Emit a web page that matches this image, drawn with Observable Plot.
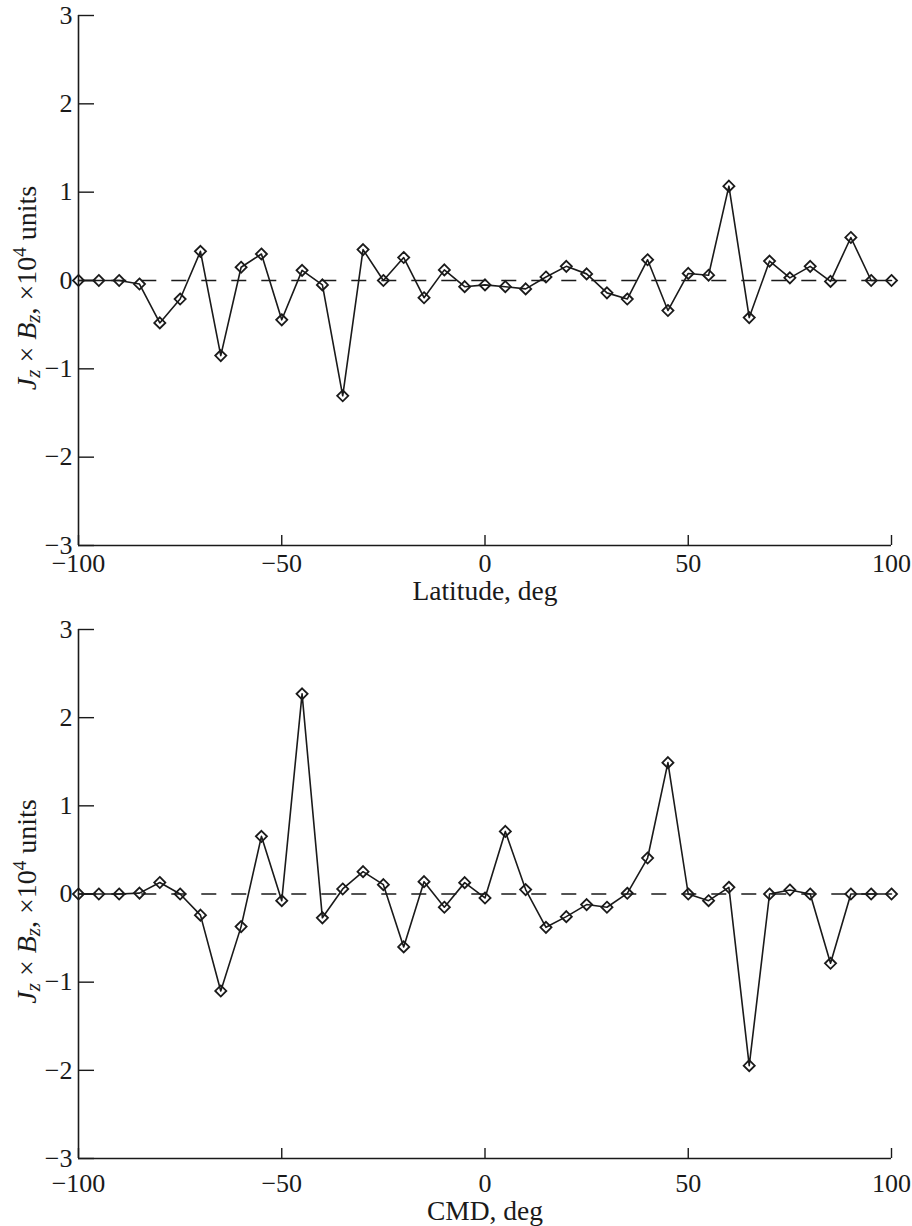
<!DOCTYPE html>
<html>
<head>
<meta charset="utf-8">
<script src="https://cdn.jsdelivr.net/npm/d3@7"></script>
<script src="https://cdn.jsdelivr.net/npm/@observablehq/plot@0.6"></script>
<style>
  html, body { margin: 0; padding: 0; background: #fff; }
  svg { display: block; }
</style>
</head>
<body>
<div id="chart"></div>
<script>
// ---- data ----
const angles = [-100, -95, -90, -85, -80, -75, -70, -65, -60, -55, -50, -45, -40, -35, -30, -25, -20, -15, -10, -5,
  0, 5, 10, 15, 20, 25, 30, 35, 40, 45, 50, 55, 60, 65, 70, 75, 80, 85, 90, 95, 100];

const latitudeValues = [0, 0, 0, -0.04, -0.48, -0.21, 0.33, -0.85, 0.15, 0.30, -0.445, 0.115, -0.05, -1.305, 0.35, 0.0, 0.26, -0.195, 0.12, -0.07,
  -0.05, -0.07, -0.095, 0.04, 0.16, 0.075, -0.14, -0.21, 0.235, -0.34, 0.08, 0.06, 1.068, -0.42, 0.22, 0.03, 0.16, -0.01, 0.487, 0, 0];

const cmdValues = [0, 0, 0, 0.01, 0.13, 0, -0.24, -1.10, -0.37, 0.654, -0.076, 2.27, -0.27, 0.057, 0.253, 0.106, -0.60, 0.14, -0.15, 0.129,
  -0.045, 0.71, 0.05, -0.378, -0.257, -0.12, -0.15, 0.008, 0.408, 1.49, 0, -0.076, 0.076, -1.947, 0, 0.045, 0, -0.786, 0, 0, 0];

const xTicks = [-100, -50, 0, 50, 100];
const yTicks = [-3, -2, -1, 0, 1, 2, 3];
const xDomain = [-100, 100];
const yDomain = [-3, 3];
const topXLabel = "Latitude, deg";
const bottomXLabel = "CMD, deg";

// ---- drawing ----
const ink = "#1a1a1a";
const serif = "Liberation Serif, Times New Roman, serif";
const fmt = d => d < 0 ? "\u2212" + Math.abs(d) : String(d);

function panel(values, xLabel, o) {
  const data = angles.map((a, i) => ({x: a, y: values[i]}));
  const W = 912, mL = 78, mR = 21;
  const frameW = W - mL - mR;
  const frameH = o.height - o.marginTop - o.marginBottom;
  const svg = Plot.plot({
    width: W,
    height: o.height,
    marginLeft: mL,
    marginRight: mR,
    marginTop: o.marginTop,
    marginBottom: o.marginBottom,
    style: {fontFamily: serif, fontSize: "26px", color: ink, background: "#fff", overflow: "visible"},
    x: {domain: xDomain},
    y: {domain: yDomain},
    marks: [
      Plot.ruleY([0], {stroke: ink, strokeWidth: 1.6, strokeDasharray: "15,15", strokeDashoffset: 26.7}),
      Plot.line(data, {x: "x", y: "y", stroke: ink, strokeWidth: 1.6}),
      Plot.dot(data, {x: "x", y: "y", symbol: "diamond2", r: 5, stroke: ink, fill: "none", strokeWidth: 1.8}),
      Plot.ruleX([xDomain[0]], {stroke: ink, strokeWidth: 1.6}),
      Plot.ruleY([yDomain[0]], {stroke: ink, strokeWidth: 1.6}),
      Plot.tickY(yTicks, {y: d => d, stroke: ink, strokeWidth: 1.4, insetRight: frameW - 16}),
      Plot.tickX(xTicks, {x: d => d, stroke: ink, strokeWidth: 1.4, insetTop: frameH - 10}),
      Plot.axisY(yTicks, {tickSize: 0, tickPadding: 6, tickFormat: fmt, label: null, fill: ink, fontFamily: serif, fontSize: 26}),
      Plot.axisX(xTicks, {tickSize: 0, tickPadding: o.tickPad, tickFormat: fmt, label: null, fill: ink, fontFamily: serif, fontSize: 26}),
      Plot.text([xLabel], {frameAnchor: "bottom", dy: o.labelDy, fontSize: 27.5, fontFamily: serif, fill: ink, lineAnchor: "middle"})
    ]
  });
  // rich y-axis label with italics, subscripts and superscript
  const t = d3.select(svg).append("text")
    .attr("transform", `translate(36,${o.marginTop + frameH / 2 + 8}) rotate(-90)`)
    .attr("text-anchor", "middle")
    .attr("font-family", serif)
    .attr("font-size", 28)
    .attr("fill", ink);
  t.append("tspan").attr("font-style", "italic").text("J");
  t.append("tspan").attr("font-style", "italic").attr("font-size", 21).attr("dy", 4).text("z");
  t.append("tspan").attr("dy", -4).text(" \u00d7 ");
  t.append("tspan").attr("font-style", "italic").text("B");
  t.append("tspan").attr("font-style", "italic").attr("font-size", 21).attr("dy", 4).text("z");
  t.append("tspan").attr("dy", -4).text(", \u00d710");
  t.append("tspan").attr("font-size", 19).attr("dy", -10).text("4");
  t.append("tspan").attr("dy", 10).text(" units");
  return svg;
}

const root = document.getElementById("chart");
root.appendChild(panel(latitudeValues, topXLabel, {height: 610, marginTop: 15, marginBottom: 65, tickPad: 8, labelDy: 46}));
root.appendChild(panel(cmdValues, bottomXLabel, {height: 616, marginTop: 19, marginBottom: 68, tickPad: 15, labelDy: 53}));
</script>
</body>
</html>
